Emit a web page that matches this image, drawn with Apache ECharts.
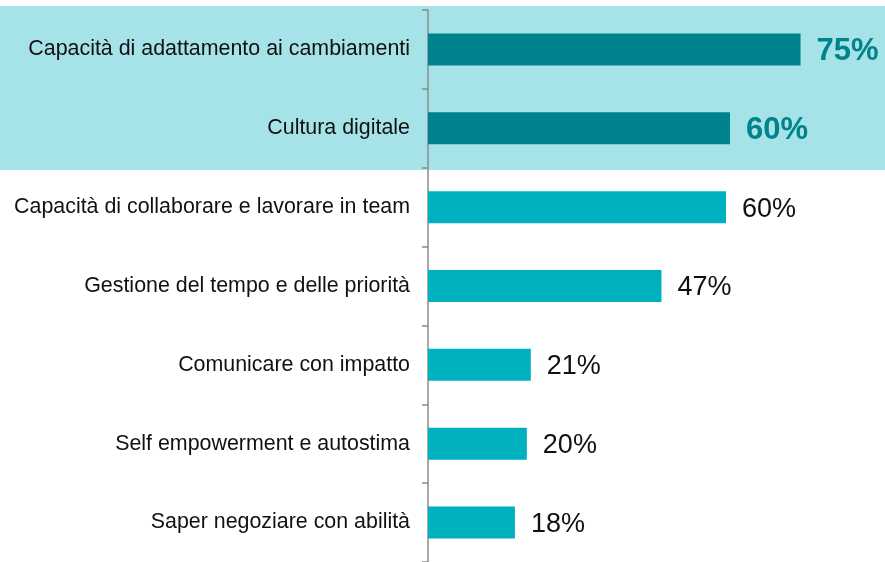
<!DOCTYPE html>
<html>
<head>
<meta charset="utf-8">
<script src="https://cdn.jsdelivr.net/npm/echarts@6/dist/echarts.min.js"></script>
<style>
  html, body { margin: 0; padding: 0; background: #ffffff; }
  #chart { width: 885px; height: 562px; }
</style>
</head>
<body>
<div id="chart"></div>
<script>
// categorie (dall'alto in basso)
const categories = [
  'Capacità di adattamento ai cambiamenti',
  'Cultura digitale',
  'Capacità di collaborare e lavorare in team',
  'Gestione del tempo e delle priorità',
  'Comunicare con impatto',
  'Self empowerment e autostima',
  'Saper negoziare con abilità'
];
// valori (%)
const values = [75, 60.8, 60, 47, 20.7, 19.9, 17.5];
const valueLabels = ['75%', '60%', '60%', '47%', '21%', '20%', '18%'];
// quante voci in evidenza in cima
const highlighted = 2;

const chart = echarts.init(document.getElementById('chart'));

const option = {
  animation: false,
  grid: { left: 428, right: 0, top: 10, bottom: 0, containLabel: false },
  graphic: [
    {
      type: 'rect',
      z: -10,
      silent: true,
      shape: { x: 0, y: 6, width: 885, height: 164 },
      style: { fill: '#a6e3e9' }
    }
  ],
  xAxis: {
    type: 'value',
    min: 0,
    max: 92,
    show: false
  },
  yAxis: {
    type: 'category',
    inverse: true,
    data: categories,
    axisLine: { show: true, lineStyle: { color: '#8c8c8c', width: 1.5 } },
    axisTick: { show: true, length: 6, lineStyle: { color: '#8c8c8c', width: 1.5 } },
    axisLabel: {
      margin: 18,
      color: '#111111',
      fontSize: 21.4,
      padding: [4, 0, 0, 0],
      fontFamily: 'Liberation Sans, Arial, sans-serif'
    },
    splitLine: { show: false }
  },
  series: [
    {
      type: 'bar',
      barWidth: 32,
      data: values.map((v, i) => ({
        value: v,
        itemStyle: { color: i < highlighted ? '#00838c' : '#00b2c0' },
        label: i < highlighted
          ? { color: '#00838c', fontWeight: 'bold', fontSize: 31 }
          : { color: '#111111', fontWeight: 'normal', fontSize: 27 }
      })),
      label: {
        show: true,
        position: 'right',
        distance: 16,
        offset: [0, 2],
        fontFamily: 'Liberation Sans, Arial, sans-serif',
        formatter: p => valueLabels[p.dataIndex]
      }
    }
  ]
};

chart.setOption(option);
</script>
</body>
</html>
